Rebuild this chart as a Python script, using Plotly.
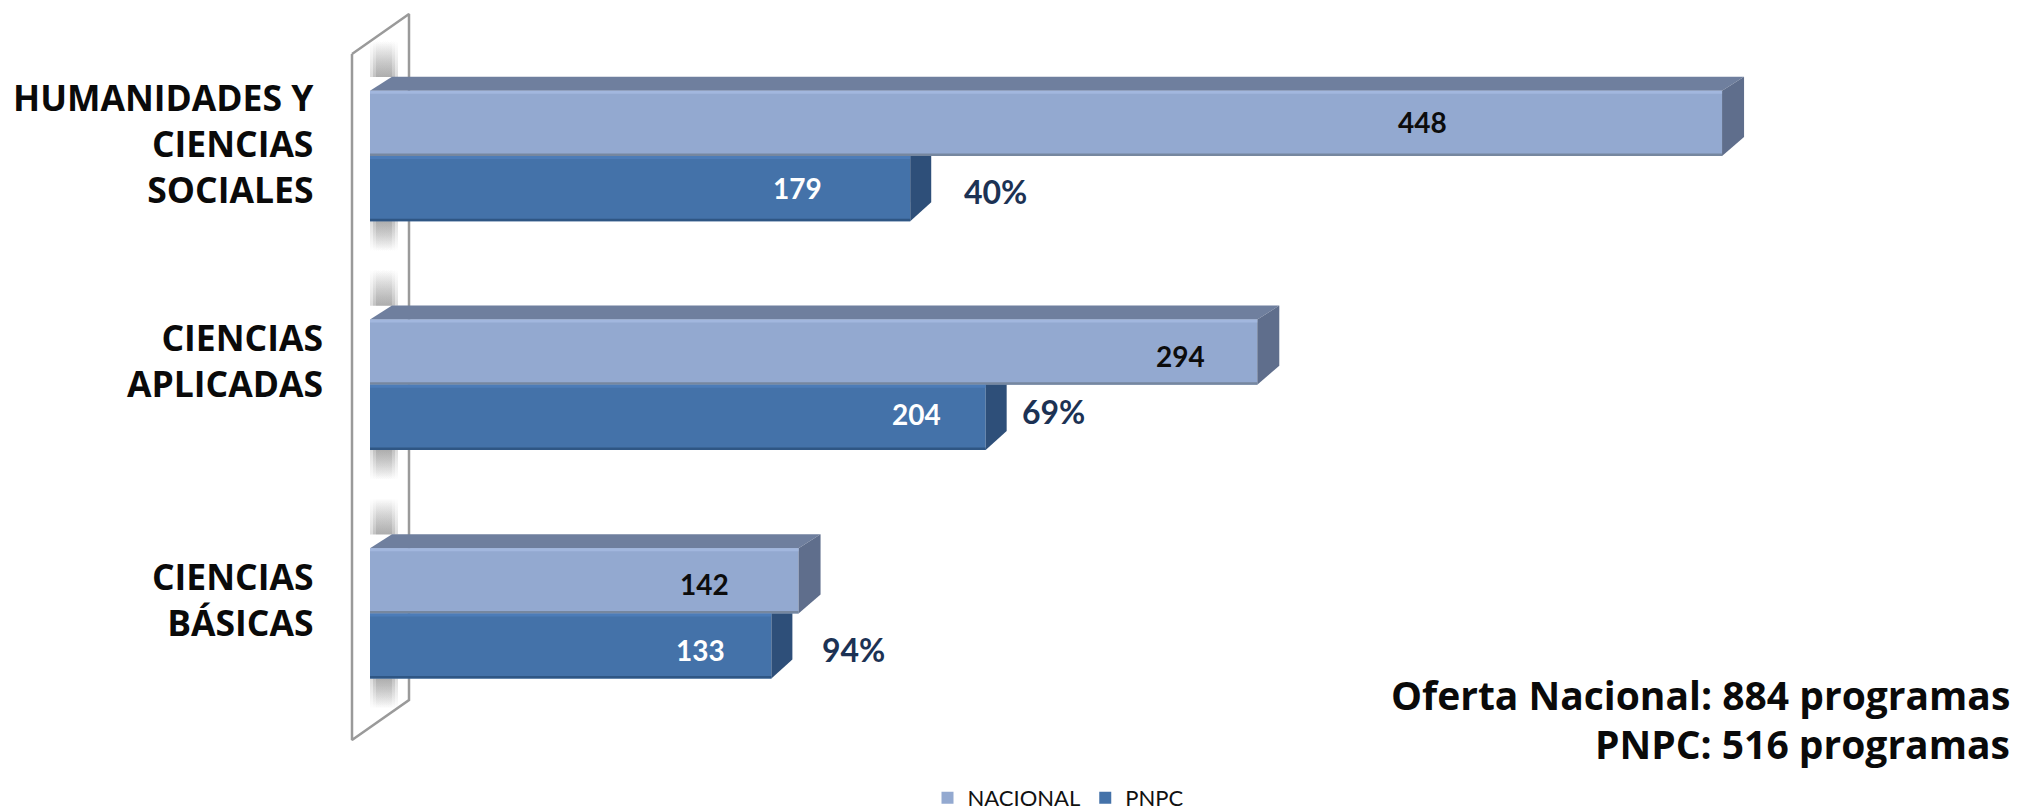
import plotly.graph_objects as go

categories = ["HUMANIDADES Y<br>CIENCIAS<br>SOCIALES", "CIENCIAS<br>APLICADAS", "CIENCIAS<br>BÁSICAS"]
nacional = [448, 294, 142]
pnpc = [179, 204, 133]
porcentaje = ["40%", "69%", "94%"]
nota = "Oferta Nacional: 884 programas<br>PNPC: 516 programas"

W, H = 2018, 811
X0, SX = 370.0, 3.018
Y0, SY = 156.0, 228.7
x_range = [(0 - X0) / SX, (W - X0) / SX]
y_range = [(H - Y0) / SY, (0 - Y0) / SY]


def dx(px):
    return px / SX


def dy(px):
    return px / SY


def xv(px):
    return (px - X0) / SX


def yv(px):
    return (px - Y0) / SY


pos = list(range(len(categories)))
fig = go.Figure()


def poly(xs, ys, color, axes=2, **kw):
    fig.add_trace(go.Scatter(
        x=xs + xs[:1], y=ys + ys[:1], mode="lines", fill="toself", fillcolor=color,
        line=dict(width=0, color=color), hoverinfo="skip", showlegend=False,
        xaxis="x2" if axes == 2 else "x", yaxis="y2" if axes == 2 else "y", **kw))


# wall behind the bars
fig.add_trace(go.Scatter(
    x=[xv(352), xv(409), xv(409), xv(352), xv(352)],
    y=[yv(54), yv(14), yv(700), yv(740), yv(54)],
    mode="lines", fill="toself", fillcolor="white",
    line=dict(color="#9a9a9a", width=2.5), hoverinfo="skip", showlegend=False))

# soft shadows cast on the wall above and below every bar group
for i in pos:
    c = Y0 + SY * i
    top, bot = c - 65, c + 65
    for a, b, start_dark in [(top - 50, top - 14, False), (bot, bot + 30, True)]:
        dark = "rgba(110,110,110,0.24)"
        clear = "rgba(110,110,110,0)"
        scale = [[0, dark], [1, clear]] if start_dark else [[0, clear], [1, dark]]
        for l, r in [(370, 398), (373, 395), (376, 392)]:
            xs = [xv(l), xv(r), xv(r), xv(l), xv(l)]
            ys = [yv(a), yv(a), yv(b), yv(b), yv(a)]
            fig.add_trace(go.Scatter(
                x=xs, y=ys, mode="lines", fill="toself", line=dict(width=0),
                fillgradient=dict(type="vertical", colorscale=scale, start=yv(a), stop=yv(b)),
                hoverinfo="skip", showlegend=False))

# front faces
fig.add_trace(go.Bar(y=pos, x=nacional, name="NACIONAL", orientation="h",
                     marker=dict(color="#93a9d0", line=dict(width=0)),
                     xaxis="x2", yaxis="y2", hoverinfo="skip"))
fig.add_trace(go.Bar(y=pos, x=pnpc, name="PNPC", orientation="h",
                     marker=dict(color="#4472a9", line=dict(width=0)),
                     xaxis="x2", yaxis="y2", hoverinfo="skip"))

bar_h = 0.285
ddx = dx(22)
for i in pos:
    # NACIONAL: top face, side face, edges
    v = nacional[i]
    t, b = i - bar_h, i
    poly([0, ddx, v + ddx, v], [t, t - dy(14), t - dy(14), t], "#6f7f9e")
    poly([v, v + ddx, v + ddx, v], [t, t - dy(14), b - dy(19), b], "#5f6e8c")
    poly([0, v, v, 0], [t, t, t + dy(3), t + dy(3)], "#a2b7de")
    poly([0, v, v, 0], [b - dy(2.5), b - dy(2.5), b, b], "#76879f")
    # PNPC: side face, edges
    w = pnpc[i]
    t2, b2 = i, i + bar_h
    poly([w, w + dx(21), w + dx(21), w], [t2, t2, b2 - dy(19), b2], "#2e4f79")
    poly([0, w, w, 0], [t2, t2, t2 + dy(3), t2 + dy(3)], "#4c7cb8")
    poly([0, w, w, 0], [b2 - dy(2.5), b2 - dy(2.5), b2, b2], "#2f5684")

ann = []
label_right = [316, 325, 316]
label_center = [143, 360, 599]
for i, c in enumerate(categories):
    ann.append(dict(x=label_right[i] / W, y=1 - label_center[i] / H, xref="paper", yref="paper",
                    text="<b>%s</b>" % c, showarrow=False, xanchor="right", yanchor="middle",
                    align="right", font=dict(family="Open Sans", size=35.5, color="#0a0a0a")))

nac_lab_px = [1422, 1180, 704]
pn_lab_px = [797, 916, 700]
pct_lab_px = [995, 1053, 853]
nac_shift = [-1, 4, 3]
pn_shift = [-1, -3, 4]
pct_shift = [3, -6, 4]
label_font = "Lato"
for i in pos:
    ann.append(dict(x=xv(nac_lab_px[i]), y=i - bar_h / 2 + dy(nac_shift[i]), xref="x2", yref="y2",
                    text="<b>%d</b>" % nacional[i], showarrow=False,
                    font=dict(family=label_font, size=28, color="#0c0c0c")))
    ann.append(dict(x=xv(pn_lab_px[i]), y=i + bar_h / 2 + dy(pn_shift[i]), xref="x2", yref="y2",
                    text="<b>%d</b>" % pnpc[i], showarrow=False,
                    font=dict(family=label_font, size=28, color="#ffffff")))
    ann.append(dict(x=xv(pct_lab_px[i]), y=i + bar_h / 2 + dy(pct_shift[i]), xref="x2", yref="y2",
                    text="<b>%s</b>" % porcentaje[i], showarrow=False,
                    font=dict(family=label_font, size=32, color="#1c3254")))

for j, txt in enumerate(nota.split("<br>")):
    ann.append(dict(x=2012 / W, y=1 - (694 + 49 * j) / H, xref="paper", yref="paper", text="<b>%s</b>" % txt,
                    showarrow=False, xanchor="right", yanchor="middle",
                    font=dict(family="Open Sans", size=39, color="#0a0a0a")))

axis = dict(showgrid=False, zeroline=False, showticklabels=False, ticks="", showline=False)
fig.update_layout(
    width=W, height=H, margin=dict(l=0, r=0, t=0, b=0, pad=0, autoexpand=False),
    paper_bgcolor="white", plot_bgcolor="rgba(0,0,0,0)",
    barmode="group", bargap=0.43, bargroupgap=0,
    xaxis=dict(range=x_range, domain=[0, 1], **axis),
    yaxis=dict(range=y_range, domain=[0, 1], **axis),
    xaxis2=dict(range=x_range, overlaying="x", **axis),
    yaxis2=dict(range=y_range, overlaying="y", **axis),
    annotations=ann,
    legend=dict(orientation="h", x=927.5 / W, y=1 - 798 / H, xanchor="left", yanchor="middle",
                font=dict(family="Lato", size=22, color="#111111"), bgcolor="rgba(0,0,0,0)",
                traceorder="normal"),
)
fig.write_html("out.html", config=dict(displayModeBar=False),
               post_script="document.body.style.margin='0';document.documentElement.style.overflow='hidden';")
